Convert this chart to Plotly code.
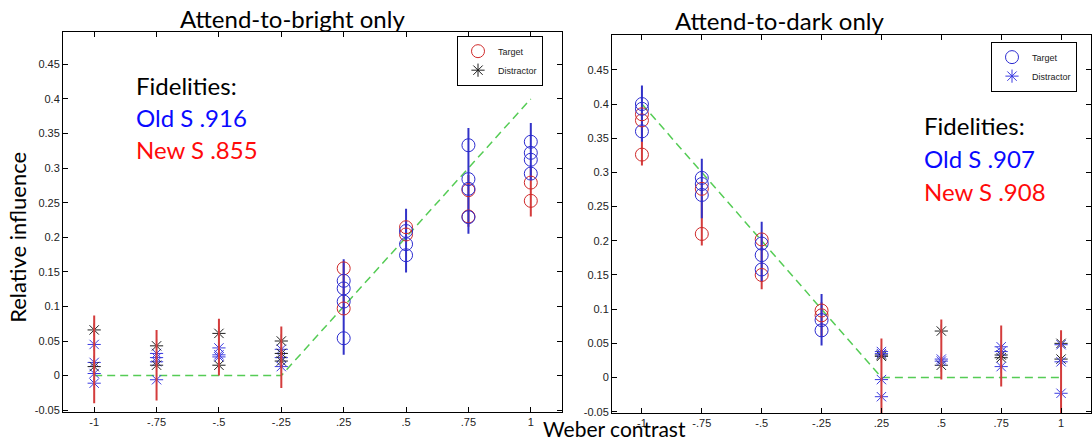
import plotly.graph_objects as go

W, H = 1092, 444

# Weber contrast categories (equally spaced on the axis)
contrasts = ["-1", "-.75", "-.5", "-.25", ".25", ".5", ".75", "1"]
ytick_vals = [-0.05, 0, 0.05, 0.1, 0.15, 0.2, 0.25, 0.3, 0.35, 0.4, 0.45]
ytick_text = ["-0.05", "0", "0.05", "0.1", "0.15", "0.2", "0.25", "0.3", "0.35", "0.4", "0.45"]

# ---- Attend-to-bright only ----
bright_model = [0, 0, 0, 0, 0.1, 0.2, 0.3, 0.4]

bright_tgt_old_c = [".25", ".25", ".25", ".25", ".5", ".5", ".5", ".75", ".75", ".75", ".75", "1", "1", "1", "1"]
bright_tgt_old_v = [0.137, 0.126, 0.107, 0.054, 0.209, 0.190, 0.174, 0.333, 0.284, 0.270, 0.229, 0.338, 0.322, 0.312, 0.292]
bright_tgt_new_c = [".25", ".25", ".5", ".5", ".75", ".75", "1", "1"]
bright_tgt_new_v = [0.155, 0.097, 0.2145, 0.204, 0.268, 0.230, 0.279, 0.2526]

bright_dist_old_c = ["-1", "-1", "-1", "-1", "-.75", "-.75", "-.75", "-.75", "-.5", "-.5", "-.5", "-.25", "-.25", "-.25"]
bright_dist_old_v = [0.045, 0.019, 0.003, -0.011, 0.032, 0.026, 0.020, -0.006, 0.040, 0.030, 0.027, 0.038, 0.026, 0.013]
bright_dist_new_c = ["-1", "-1", "-.75", "-.75", "-.5", "-.5", "-.25", "-.25", "-.25"]
bright_dist_new_v = [0.066, 0.013, 0.043, 0.015, 0.061, 0.015, 0.050, 0.032, 0.021]

bright_bar_dist_c = ["-1", "-.75", "-.5", "-.25"]
bright_bar_dist_lo = [-0.040, -0.036, 0.000, -0.018]
bright_bar_dist_hi = [0.087, 0.066, 0.082, 0.071]
bright_bar_tgt_c = [".25", ".5", ".75", "1"]
bright_bar_old_lo = [0.030, 0.149, 0.205, 0.283]
bright_bar_old_hi = [0.168, 0.241, 0.358, 0.365]
bright_bar_new_lo = [0.088, 0.195, 0.215, 0.230]
bright_bar_new_hi = [0.165, 0.225, 0.290, 0.300]

# ---- Attend-to-dark only ----
dark_model = [0.4, 0.3, 0.2, 0.1, 0, 0, 0, 0]

dark_tgt_old_c = ["-1", "-1", "-1", "-.75", "-.75", "-.75", "-.5", "-.5", "-.5", "-.25", "-.25"]
dark_tgt_old_v = [0.400, 0.393, 0.360, 0.292, 0.283, 0.267, 0.196, 0.179, 0.158, 0.084, 0.069]
dark_tgt_new_c = ["-1", "-1", "-1", "-.75", "-.75", "-.5", "-.5", "-.25", "-.25"]
dark_tgt_new_v = [0.385, 0.376, 0.326, 0.276, 0.210, 0.202, 0.150, 0.098, 0.091]

dark_dist_old_c = [".25", ".25", ".25", ".25", ".5", ".5", ".75", ".75", ".75", "1", "1", "1"]
dark_dist_old_v = [0.038, 0.035, -0.003, -0.028, 0.027, 0.024, 0.045, 0.038, 0.016, 0.048, 0.023, -0.023]
dark_dist_new_c = [".25", ".25", ".5", ".5", ".75", ".75", "1", "1"]
dark_dist_new_v = [0.031, 0.033, 0.068, 0.018, 0.033, 0.029, 0.050, 0.027]

dark_bar_tgt_c = ["-1", "-.75", "-.5", "-.25"]
dark_bar_old_lo = [0.345, 0.233, 0.140, 0.047]
dark_bar_old_hi = [0.427, 0.320, 0.228, 0.122]
dark_bar_new_lo = [0.310, 0.193, 0.129, 0.060]
dark_bar_new_hi = [0.395, 0.285, 0.210, 0.110]
dark_bar_dist_c = [".25", ".5", ".75", "1"]
dark_bar_dist_lo = [-0.070, -0.003, -0.013, -0.070]
dark_bar_dist_hi = [0.057, 0.085, 0.076, 0.069]

BLUE = "#2b2bd0"
RED = "#d02a2a"
BAR_RED = "#d43c3c"
BAR_BLUE = "#3232c8"
GREEN = "#55cc55"
AST_BLUE = "#3a3ae0"
AST_BLACK = "#1e1e1e"


def px_x(p):
    return p / W


def px_y(p):
    return 1 - p / H


def bar_trace(cats, lo, hi, color, xa, ya):
    xs, ys = [], []
    for c, a, b in zip(cats, lo, hi):
        xs += [c, c, None]
        ys += [a, b, None]
    return go.Scatter(x=xs, y=ys, mode="lines", line=dict(color=color, width=2),
                      xaxis=xa, yaxis=ya, showlegend=False, hoverinfo="skip")


def marker_trace(cats, vals, symbol, color, size, xa, ya, name=None, legend=None, rank=None):
    show = name is not None
    return go.Scatter(x=cats, y=vals, mode="markers", xaxis=xa, yaxis=ya,
                      marker=dict(symbol=symbol, size=size, color=color,
                                  line=dict(color=color, width=1)),
                      name=name or "", showlegend=show, legend=legend or "legend",
                      legendrank=rank or 1000)


def model_trace(vals, xa, ya):
    return go.Scatter(x=contrasts, y=vals, mode="lines", xaxis=xa, yaxis=ya,
                      line=dict(color=GREEN, width=1.5, dash="8px,5px"),
                      showlegend=False, hoverinfo="skip")


fig = go.Figure()

# Left panel
fig.add_trace(model_trace(bright_model, "x", "y"))
fig.add_trace(marker_trace(bright_dist_old_c, bright_dist_old_v, "asterisk-open", AST_BLUE, 11, "x", "y"))
fig.add_trace(marker_trace(bright_dist_new_c, bright_dist_new_v, "asterisk-open", AST_BLACK, 11, "x", "y",
                           name="Distractor", legend="legend", rank=2))
fig.add_trace(bar_trace(bright_bar_dist_c, bright_bar_dist_lo, bright_bar_dist_hi, BAR_RED, "x", "y"))
fig.add_trace(bar_trace(bright_bar_tgt_c, bright_bar_new_lo, bright_bar_new_hi, BAR_RED, "x", "y"))
fig.add_trace(bar_trace(bright_bar_tgt_c, bright_bar_old_lo, bright_bar_old_hi, BAR_BLUE, "x", "y"))
fig.add_trace(marker_trace(bright_tgt_new_c, bright_tgt_new_v, "circle-open", RED, 13, "x", "y",
                           name="Target", legend="legend", rank=1))
fig.add_trace(marker_trace(bright_tgt_old_c, bright_tgt_old_v, "circle-open", BLUE, 13, "x", "y"))

# Right panel
fig.add_trace(model_trace(dark_model, "x2", "y2"))
fig.add_trace(marker_trace(dark_dist_new_c, dark_dist_new_v, "asterisk-open", AST_BLACK, 11, "x2", "y2"))
fig.add_trace(marker_trace(dark_dist_old_c, dark_dist_old_v, "asterisk-open", AST_BLUE, 11, "x2", "y2",
                           name="Distractor", legend="legend2", rank=2))
fig.add_trace(bar_trace(dark_bar_dist_c, dark_bar_dist_lo, dark_bar_dist_hi, BAR_RED, "x2", "y2"))
fig.add_trace(bar_trace(dark_bar_tgt_c, dark_bar_new_lo, dark_bar_new_hi, BAR_RED, "x2", "y2"))
fig.add_trace(bar_trace(dark_bar_tgt_c, dark_bar_old_lo, dark_bar_old_hi, BAR_BLUE, "x2", "y2"))
fig.add_trace(marker_trace(dark_tgt_new_c, dark_tgt_new_v, "circle-open", RED, 13, "x2", "y2"))
fig.add_trace(marker_trace(dark_tgt_old_c, dark_tgt_old_v, "circle-open", BLUE, 13, "x2", "y2",
                           name="Target", legend="legend2", rank=1))

tick_font = dict(family="Liberation Sans, Arial", size=11, color="#222")
axis_common = dict(showline=True, linecolor="black", linewidth=1, mirror="ticks",
                   ticks="inside", ticklen=5, tickcolor="black", showgrid=False,
                   zeroline=False, tickfont=tick_font, fixedrange=True)

legend_common = dict(xanchor="left", yanchor="top", bgcolor="white", bordercolor="black",
                     borderwidth=1, font=dict(family="Liberation Sans, Arial", size=9, color="#222"),
                     traceorder="normal", tracegroupgap=0, itemwidth=30)

fig.update_layout(
    width=W, height=H, autosize=False,
    margin=dict(l=0, r=0, t=0, b=0),
    paper_bgcolor="white", plot_bgcolor="white",
    xaxis=dict(domain=[px_x(63), px_x(562)], type="category", categoryorder="array",
               categoryarray=contrasts, range=[-0.5, 7.5], anchor="y", **axis_common),
    yaxis=dict(domain=[px_y(416), px_y(32)], range=[-0.053, 0.4971], anchor="x",
               tickvals=ytick_vals, ticktext=ytick_text, **axis_common),
    xaxis2=dict(domain=[px_x(612), px_x(1091)], type="category", categoryorder="array",
                categoryarray=contrasts, range=[-0.5, 7.5], anchor="y2", **axis_common),
    yaxis2=dict(domain=[px_y(417), px_y(35)], range=[-0.0522, 0.5014], anchor="x2",
                tickvals=ytick_vals, ticktext=ytick_text, **axis_common),
    legend=dict(x=px_x(457), y=px_y(36), **legend_common),
    legend2=dict(x=px_x(991), y=px_y(42), **legend_common),
)

text_font = "Lato, Open Sans, sans-serif"


def add_text(txt, x, y, size, color, xanchor="center", angle=0):
    fig.add_annotation(text=txt, x=px_x(x), y=px_y(y), xref="paper", yref="paper",
                       xanchor=xanchor, yanchor="middle", showarrow=False, textangle=angle,
                       font=dict(family=text_font, size=size, color=color))


add_text("Attend-to-bright only", 292, 19, 24, "black")
add_text("Attend-to-dark only", 779, 21, 24, "black")
add_text("Relative influence", 18, 240, 22, "black", angle=-90)
add_text("Weber contrast", 614, 432, 21, "black")

add_text("Fidelities:", 134, 86, 24, "black", xanchor="left")
add_text("Old S .916", 134, 119, 24, "#0a0aff", xanchor="left")
add_text("New S .855", 134, 151, 24, "#ff0a0a", xanchor="left")

add_text("Fidelities:", 922, 127, 24, "black", xanchor="left")
add_text("Old S .907", 922, 160, 24, "#0a0aff", xanchor="left")
add_text("New S .908", 922, 193, 24, "#ff0a0a", xanchor="left")

fig.write_html("out.html")
